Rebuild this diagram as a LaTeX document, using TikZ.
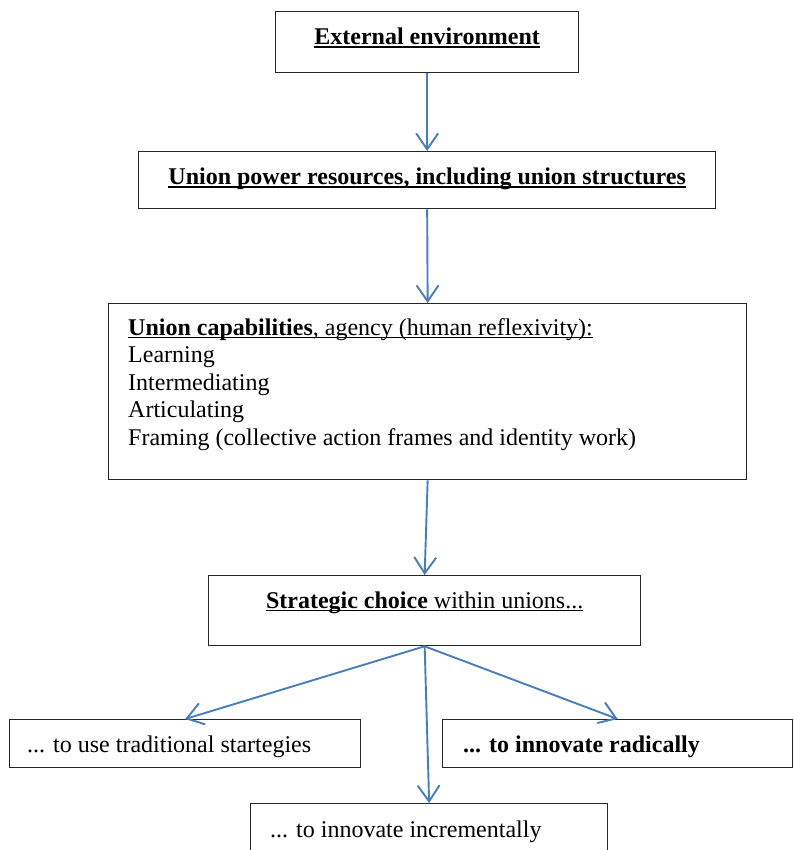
\documentclass[tikz,border=0pt]{standalone}
\usepackage{fontspec}
\setmainfont{Liberation Serif}
\usetikzlibrary{arrows.meta}
\definecolor{arrowblue}{HTML}{4A7EBB}
\newsavebox{\ulbox}
\newcommand{\myul}[1]{\sbox{\ulbox}{#1}\leavevmode\rlap{\rule[-2.8pt]{\wd\ulbox}{1.3pt}}\usebox{\ulbox}}
\begin{document}
\begin{tikzpicture}[x=1pt,y=-1pt,
  box/.style={draw=black!85, line width=1.3pt, anchor=north west, inner sep=0pt},
  txt/.style={font=\fontsize{24}{27.6}\selectfont, inner sep=0pt},
  arr/.style={draw=arrowblue, line width=1.9pt, -{Straight Barb[length=16pt,width=22pt,line width=1.9pt]}}
]
\useasboundingbox (0,0) rectangle (793,850);
\clip (0,0) rectangle (793,850);
\fill[white] (0,0) rectangle (793,850);
% boxes
\node[box, minimum width=303pt, minimum height=61pt] (b1) at (275,11) {};
\node[box, minimum width=577pt, minimum height=57pt] (b2) at (138,151) {};
\node[box, minimum width=638pt, minimum height=176pt] (b3) at (108,303) {};
\node[box, minimum width=432pt, minimum height=70pt] (b4) at (208,575) {};
\node[box, minimum width=351pt, minimum height=48pt] (b5) at (9,719) {};
\node[box, minimum width=350pt, minimum height=48pt] (b6) at (442,719) {};
\node[box, minimum width=357pt, minimum height=80pt] (b7) at (250,803) {};
% texts
\node[txt, anchor=base] (t1) at (b1.north |- 0,45) {\myul{\textbf{External environment}}};
\node[txt, anchor=base] (t2) at (b2.north |- 0,185) {\myul{\textbf{Union power resources, including union structures}}};
\node[txt, anchor=north west, align=left] (t3) at (128,318) {\myul{\textbf{Union capabilities}, agency (human reflexivity):}\\Learning\\Intermediating\\Articulating\\Framing (collective action frames and identity work)};
\node[txt, anchor=base] (t4) at (b4.north |- 0,608) {\myul{\textbf{Strategic choice} within unions...}};
\node[txt, anchor=base west] (t5) at (27,752) {... to use traditional startegies};
\node[txt, anchor=base west] (t6) at (463,752) {\textbf{... to innovate radically}};
\node[txt, anchor=base west] (t7) at (270,837) {... to innovate incrementally};
% arrows
\draw[arr] (b1.south) -- (b2.north);
\draw[arr] (b2.south) -- (b3.north);
\draw[arr] (b3.south) -- (b4.north);
\draw[arr] (b4.south) -- (b5.north);
\draw[arr] (b4.south) -- (b6.north);
\draw[arr] (b4.south) -- (b7.north);
\end{tikzpicture}
\end{document}
